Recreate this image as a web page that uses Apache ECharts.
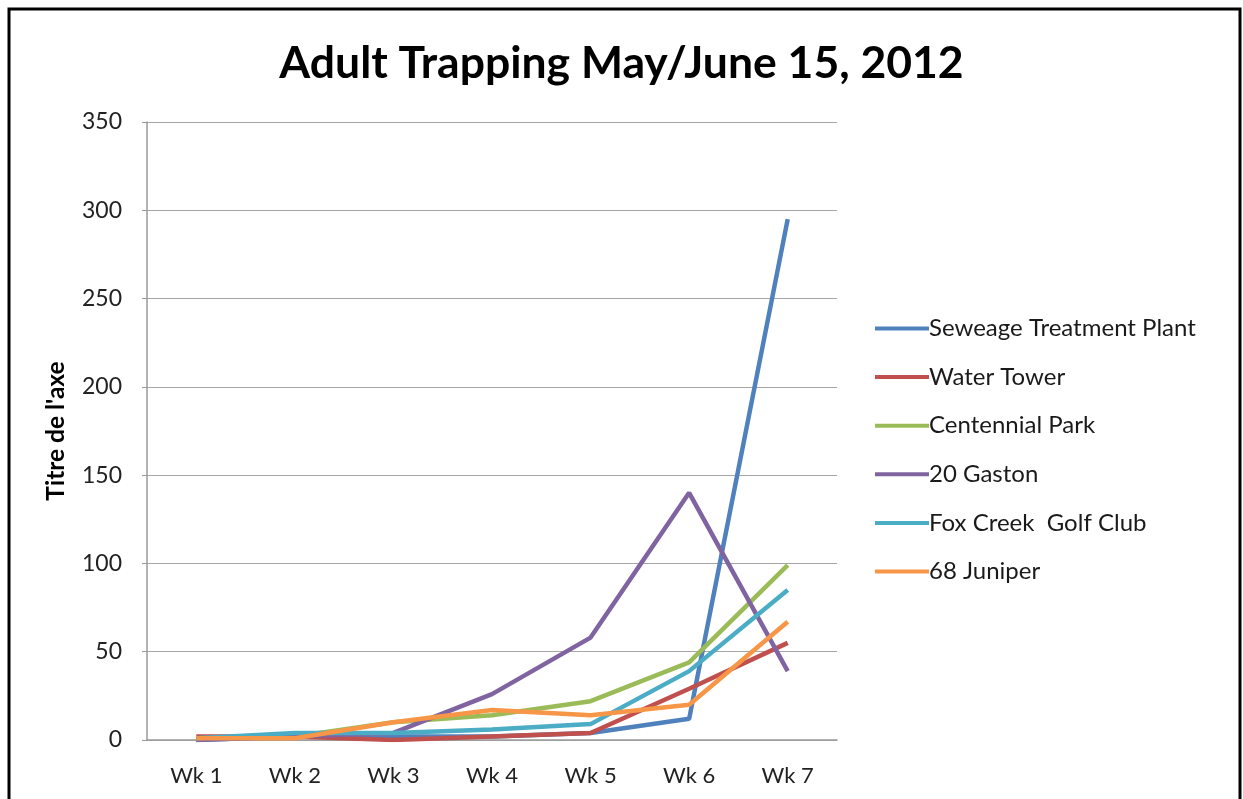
<!DOCTYPE html>
<html>
<head>
<meta charset="utf-8">
<script src="https://cdn.jsdelivr.net/npm/echarts@6/dist/echarts.min.js"></script>
<style>
html,body{margin:0;padding:0;background:#fff;}
#c{width:1243px;height:799px;}
</style>
</head>
<body>
<div id="c"></div>
<script>
const categories = ['Wk 1','Wk 2','Wk 3','Wk 4','Wk 5','Wk 6','Wk 7'];
const seriesNames = ['Seweage Treatment Plant','Water Tower','Centennial Park','20 Gaston','Fox Creek  Golf Club','68 Juniper'];
const seweage   = [0, 2, 2, 2, 4, 12, 295];
const waterTower = [2, 2, 0, 2, 4, 29, 55];
const centennial = [1, 2, 10, 14, 22, 44, 99];
const gaston    = [0, 2, 4, 26, 58, 140, 39];
const foxCreek  = [1, 4, 4, 6, 9, 39, 85];
const juniper   = [1, 1, 10, 17, 14, 20, 67];
const colors = ['#4F81BD','#C0504D','#9BBB59','#8064A2','#4BACC6','#F79646'];
const yTicks = {min: 0, max: 350, interval: 50};

const allData = [seweage, waterTower, centennial, gaston, foxCreek, juniper];
const FONT = 'Lato, "Open Sans", sans-serif';

const chart = echarts.init(document.getElementById('c'), null, {renderer:'canvas'});
chart.setOption({
  animation: false,
  backgroundColor: '#fff',
  color: colors,
  title: {
    text: 'Adult Trapping May/June 15, 2012',
    left: 'center',
    top: 37,
    textStyle: {fontFamily: FONT, fontSize: 44.5, fontWeight: 'bold', color: '#000', lineHeight: 44}
  },
  graphic: [{
    type: 'rect',
    shape: {x: 9, y: 9, width: 1231, height: 800},
    style: {fill: 'none', stroke: '#000', lineWidth: 3},
    silent: true
  }],
  legend: {
    orient: 'vertical',
    left: 870,
    top: 311,
    itemWidth: 54,
    itemHeight: 4,
    itemGap: 23.6,
    icon: 'rect',
    textStyle: {fontFamily: FONT, fontSize: 24, lineHeight: 25, color: '#1a1a1a', padding: [0,0,0,-5]},
    data: seriesNames
  },
  grid: {left: 147, top: 122, right: 406, bottom: 59, containLabel: false},
  xAxis: {
    type: 'category',
    data: categories,
    boundaryGap: true,
    axisLine: {lineStyle: {color: '#9a9a9a', width: 1.5}},
    axisTick: {show: false},
    axisLabel: {fontFamily: FONT, fontSize: 22, color: '#222', margin: 25}
  },
  yAxis: {
    type: 'value',
    min: yTicks.min, max: yTicks.max, interval: yTicks.interval,
    name: "Titre de l'axe",
    nameLocation: 'middle',
    nameGap: 78,
    nameTextStyle: {fontFamily: FONT, fontSize: 24.5, fontWeight: 'bold', color: '#000'},
    axisLine: {show: true, lineStyle: {color: '#9a9a9a', width: 1.5}},
    axisTick: {show: true, length: 5, lineStyle: {color: '#9a9a9a'}},
    axisLabel: {fontFamily: FONT, fontSize: 23, color: '#222', margin: 25},
    splitLine: {lineStyle: {color: '#a6a6a6', width: 1.2}}
  },
  series: seriesNames.map((n, i) => ({
    name: n,
    type: 'line',
    data: allData[i],
    symbol: 'none',
    lineStyle: {width: 4.5, color: colors[i]},
    itemStyle: {color: colors[i]}
  }))
});
</script>
</body>
</html>
